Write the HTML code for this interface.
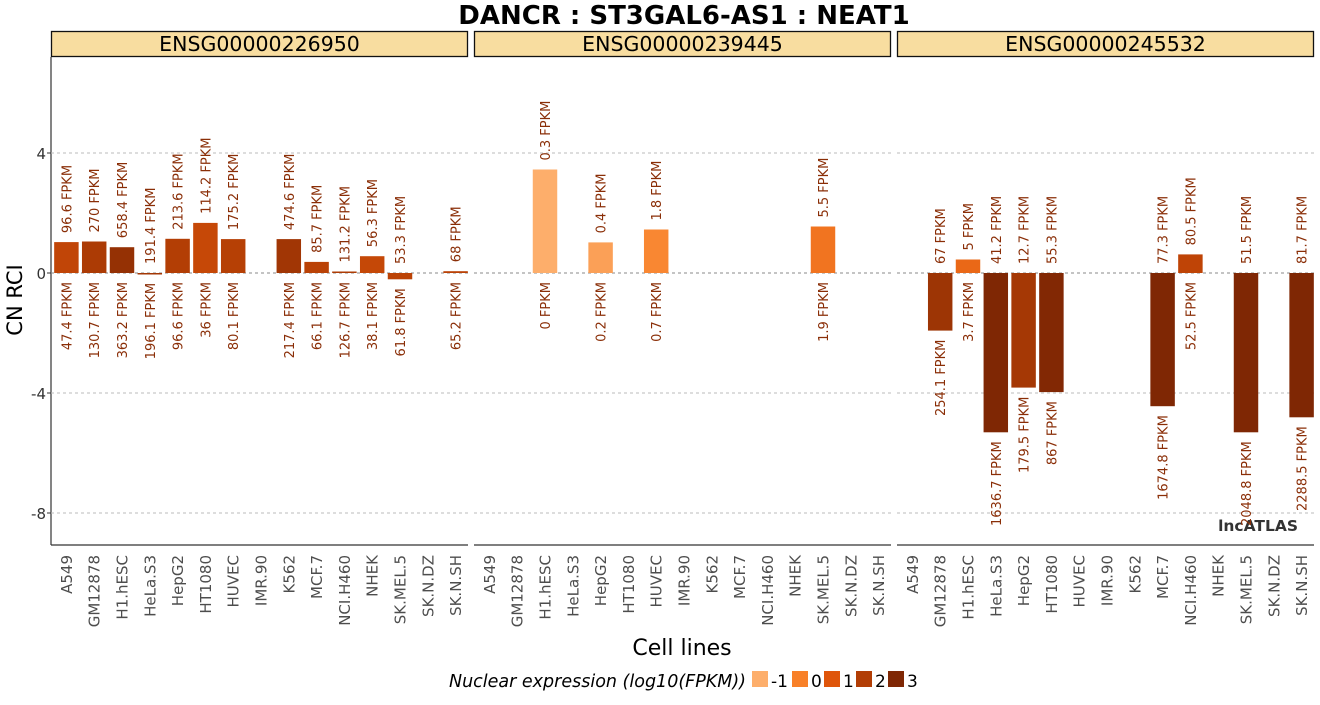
<!DOCTYPE html>
<html><head><meta charset="utf-8"><style>
body{margin:0;background:#fff;width:1320px;height:700px;overflow:hidden}
svg text{font-family:"DejaVu Sans","Liberation Sans",sans-serif}
</style></head><body>
<svg id="chart" width="1320" height="700" xmlns="http://www.w3.org/2000/svg">
<text x="684" y="24" text-anchor="middle" font-size="26" font-weight="bold">DANCR : ST3GAL6-AS1 : NEAT1</text>
<text transform="translate(22,300) rotate(-90)" text-anchor="middle" font-size="21">CN RCI</text>
<text x="682" y="655" text-anchor="middle" font-size="22">Cell lines</text>
<text x="1298" y="531" text-anchor="end" font-size="15.5" font-weight="bold" fill="#333">lncATLAS</text>
<g id="legend">
<text x="746" y="687" text-anchor="end" font-size="17.5" font-style="italic">Nuclear expression (log10(FPKM))</text>
</g>
</svg>
<script>
const cells=["A549","GM12878","H1.hESC","HeLa.S3","HepG2","HT1080","HUVEC","IMR.90","K562","MCF.7","NCI.H460","NHEK","SK.MEL.5","SK.N.DZ","SK.N.SH"];
const panels=["ENSG00000226950","ENSG00000239445","ENSG00000245532"];
const yTicks=[4,0,-4,-8];
const legendLevels=[-1,0,1,2,3];
// per panel: RCI values (null = no bar), cytoplasmic FPKM (top label), nuclear FPKM (bottom label)
const rci1=[1.03,1.05,0.86,-0.03,1.14,1.67,1.13,null,1.13,0.37,0.05,0.56,-0.21,null,0.06];
const cyto1=["96.6","270","658.4","191.4","213.6","114.2","175.2",null,"474.6","85.7","131.2","56.3","53.3",null,"68"];
const nuc1=["47.4","130.7","363.2","196.1","96.6","36","80.1",null,"217.4","66.1","126.7","38.1","61.8",null,"65.2"];
const rci2=[null,null,3.45,null,1.02,null,1.45,null,null,null,null,null,1.55,null,null];
const cyto2=[null,null,"0.3",null,"0.4",null,"1.8",null,null,null,null,null,"5.5",null,null];
const nuc2=[null,null,"0",null,"0.2",null,"0.7",null,null,null,null,null,"1.9",null,null];
const rci3=[null,-1.92,0.45,-5.31,-3.82,-3.97,null,null,null,-4.44,0.62,null,-5.31,null,-4.81];
const cyto3=[null,"67","5","41.2","12.7","55.3",null,null,null,"77.3","80.5",null,"51.5",null,"81.7"];
const nuc3=[null,"254.1","3.7","1636.7","179.5","867",null,null,null,"1674.8","52.5",null,"2048.8",null,"2288.5"];
const rciAll=[rci1,rci2,rci3],cytoAll=[cyto1,cyto2,cyto3],nucAll=[nuc1,nuc2,nuc3];

const NS="http://www.w3.org/2000/svg";
const svg=document.getElementById('chart');
function mk(t,a,p){const e=document.createElementNS(NS,t);for(const k in a)e.setAttribute(k,a[k]);(p||svg).appendChild(e);return e;}
const PX=[51,474,897],PW=417,TOP=57,BOT=545;
const y=v=>273-v*30;
const bandW=PW/cells.length;
const xc=(p,i)=>PX[p]+bandW*(i+0.5)+1.5;
const stops=[[-1,[253,174,107]],[0,[248,128,40]],[1,[223,85,10]],[2,[178,62,5]],[3,[127,39,4]]];
function col(v){v=Math.max(-1,Math.min(3,v));for(let k=0;k<4;k++){const a=stops[k],b=stops[k+1];if(v<=b[0]){const t=(v-a[0]);const c=a[1].map((x,j)=>Math.round(x+(b[1][j]-x)*t));return `rgb(${c})`;}}return 'rgb(127,39,4)';}
function nucLevel(s){const n=parseFloat(s);return n>0?Math.log10(n):-1;}
const yax=mk('g',{});


mk('line',{x1:51,y1:TOP,x2:51,y2:BOT,stroke:'#333','stroke-width':1.2},yax);
yTicks.forEach(t=>{
  const tx=mk('text',{x:46,y:y(t)+6,'text-anchor':'end','font-size':15,fill:'#333'},yax);tx.textContent=t;
  
  
  mk('line',{x1:47,x2:51,y1:y(t),y2:y(t),stroke:'#333'},yax);
});
panels.forEach((pn,p)=>{
  const g=mk('g',{});
  
  
  const s=mk('rect',{x:PX[p]+0.5,y:31.5,width:PW-1,height:25,fill:'#f8dda0',stroke:'#111','stroke-width':1.3},g);
  
  
  const st=mk('text',{x:PX[p]+PW/2,y:51,'text-anchor':'middle','font-size':20.5},g);st.textContent=pn;
  
  
  yTicks.forEach(t=>{
    const gl=mk('line',{x1:PX[p],x2:PX[p]+PW,y1:y(t),y2:y(t),stroke:t===0?'#888':'#bbb','stroke-dasharray':'3,3','stroke-width':1},g);
    
    
  });
  mk('line',{x1:PX[p],x2:PX[p]+PW,y1:BOT,y2:BOT,stroke:'#333','stroke-width':1.2},g);
  cells.forEach((c,i)=>{
    const lx=xc(p,i);
    const tl=mk('text',{transform:`translate(${lx+5.5},${BOT+10}) rotate(-90)`,'text-anchor':'end','font-size':15,fill:'#4d4d4d'},g);tl.textContent=c;
    
    
    const v=rciAll[p][i];if(v===null)return;
    const top=Math.min(y(v),y(0)),bot=Math.max(y(v),y(0));
    const b=mk('rect',{x:lx-bandW*0.44,y:top,width:bandW*0.88,height:Math.max(bot-top,1.5),fill:col(nucLevel(nucAll[p][i]))},g);
    
    
    const t1=mk('text',{transform:`translate(${lx+5},${top-9}) rotate(-90)`,'text-anchor':'start','font-size':13,fill:'#8a2e07'},g);
    t1.textContent=cytoAll[p][i]+' FPKM';
    
    
    const t2=mk('text',{transform:`translate(${lx+5},${bot+9}) rotate(-90)`,'text-anchor':'end','font-size':13,fill:'#8a2e07'},g);
    t2.textContent=nucAll[p][i]+' FPKM';
    
    
  });
});
const lg=document.getElementById('legend');
let lx=752;
legendLevels.forEach(l=>{
  const r=mk('rect',{x:lx,y:671,width:16,height:16,fill:col(l)},lg);
  
  
  const t=mk('text',{x:lx+19,y:687,'font-size':17},lg);t.textContent=l;
  
  
  lx+=l===-1?40:32;
});
</script>
</body></html>
